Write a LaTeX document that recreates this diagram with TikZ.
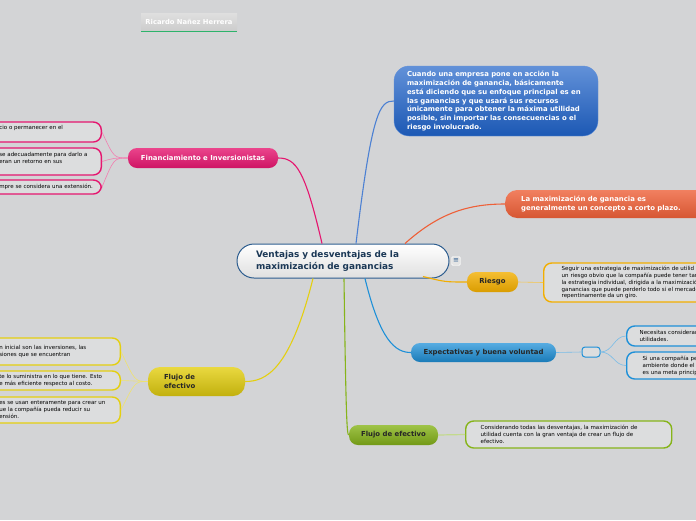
\documentclass[tikz,border=0pt]{standalone}
\usepackage{fontspec}
\setmainfont{DejaVu Sans}
\definecolor{fondo}{HTML}{D3D4D6}
\definecolor{rosa}{HTML}{E5166F}
\definecolor{naranja}{HTML}{EE6038}
\definecolor{azul}{HTML}{1F62C8}
\definecolor{ambar}{HTML}{F2AE00}
\definecolor{celeste}{HTML}{1E90D8}
\definecolor{verde}{HTML}{86B41A}
\definecolor{amarillo}{HTML}{E4CF10}
\definecolor{marino}{HTML}{2D5D8F}
\definecolor{subraya}{HTML}{2DB36B}
\newcommand{\sangria}{\hspace*{6pt}}
\begin{document}
\begin{tikzpicture}[x=1pt,y=-1pt,
  tema/.style={rounded corners=9pt, font=\fontsize{6.9}{8.6}\selectfont\bfseries, inner sep=0pt, align=center},
  hoja/.style={rounded corners=8pt, line width=1.4pt, fill=fondo!80!white, font=\fontsize{5.5}{6.9}\selectfont, align=left, inner ysep=0pt},
  rama/.style={line width=1.1pt},
  sub/.style={line width=0.6pt}]
\fill[fondo] (0,0) rectangle (696,520);
\useasboundingbox (0,0) rectangle (696,520);
\clip (0,0) rectangle (696,520);

% autor
\node[top color=gray!25, bottom color=gray!40, text=white, font=\fontsize{6.8}{7}\selectfont\bfseries, minimum width=96pt, minimum height=18pt, inner sep=0pt] (autor) at (189,22) {Ricardo Nañez Herrera};
\draw[subraya, line width=1pt] (autor.south west) -- (autor.south east);

% tema central
\node[draw=marino, line width=1pt, top color=white, bottom color=gray!25, rounded corners=17pt, text width=174pt, inner xsep=19pt, minimum height=34pt, text=marino!60!black, font=\fontsize{8.9}{11.8}\selectfont\bfseries, align=left] (root) at (343,261) {Ventajas y desventajas de la\\maximización de ganancias};
\node[draw=white, fill=gray!20, rounded corners=1.5pt, minimum size=9pt, inner sep=0pt, font=\fontsize{7}{7}\selectfont, text=marino] (menu) at (456,261) {≡};

% ramas principales
\node[tema, draw=azul!70!white, top color=azul!70!white, bottom color=azul!90!black, text=white, rounded corners=15pt, text width=178pt, inner xsep=13pt, minimum height=70pt, align=left, font=\fontsize{6.9}{8.7}\selectfont\bfseries] (def) at (496,101) {Cuando una empresa pone en acción la\\maximización de ganancia, básicamente\\está diciendo que su enfoque principal es en\\las ganancias y que usará sus recursos\\únicamente para obtener la máxima utilidad\\posible, sin importar las consecuencias o el\\riesgo involucrado.};
\node[tema, anchor=west, top color=naranja!80!white, bottom color=naranja!90!black, text=white, text width=178pt, inner xsep=16pt, minimum height=28pt, align=left, rounded corners=12pt] (corto) at (505,204) {La maximización de ganancia es\\generalmente un concepto a corto plazo.};
\node[tema, top color=ambar!80!white, bottom color=ambar!90!black, text=black!85, minimum width=51pt, minimum height=20pt] (riesgo) at (492.5,282) {Riesgo};
\node[tema, top color=celeste!75!white, bottom color=celeste!85!black, text=black!85, minimum width=145pt, minimum height=19pt] (expec) at (483.5,352.5) {Expectativas y buena voluntad};
\node[tema, top color=verde!80!white, bottom color=verde!85!black, text=black!85, minimum width=89pt, minimum height=20pt] (flujoV) at (393.5,435) {Flujo de efectivo};
\node[tema, top color=amarillo!80!white, bottom color=amarillo!85!black, text=black!85, text width=65pt, inner xsep=16pt, minimum height=29pt, align=left, rounded corners=12pt] (flujoA) at (196.5,381.5) {Flujo de\\efectivo};
\node[tema, top color=rosa!80!white, bottom color=rosa!90!black, text=white, minimum width=150pt, minimum height=20pt] (fin) at (203,158) {Financiamiento e Inversionistas};

\draw[rama, azul!80!white] ([xshift=13pt]root.north) .. controls (372,110) and (380,101) .. (def.west);
\draw[rama, naranja] ([xshift=62pt]root.north) .. controls (440,212) and (470,204) .. (corto.west);
\draw[rama, rosa] ([xshift=-21pt]root.north) .. controls (305,170) and (296,158) .. (fin.east);
\draw[rama, ambar] ([xshift=80pt,yshift=2pt]root.south) .. controls (445,282) .. (riesgo.west);
\draw[rama, celeste] ([xshift=22pt]root.south) .. controls (380,340) and (395,352.5) .. (expec.west);
\draw[rama, verde] ([xshift=1pt]root.south) .. controls (346,422) and (347,435) .. (flujoV.west);
\draw[rama, amarillo] ([xshift=-30pt]root.south) .. controls (290,370) and (266,381.5) .. (flujoA.east);

% hojas: riesgo
\node[hoja, draw=ambar, anchor=west, text width=190pt, inner xsep=18pt, minimum height=39pt] (riesgoT) at (543,282.5) {Seguir una estrategia de maximización de utilid\\un riesgo obvio que la compañía puede tener tan\\la estrategia individual, dirigida a la maximizació\\ganancias que puede perderlo todo si el mercado\\repentinamente da un giro.};
\draw[sub, ambar!70!white] (riesgo.east) -- (riesgoT.west);

% hojas: expectativas
\node[draw=celeste, line width=1pt, rounded corners=3pt, fill=fondo!80!white, minimum width=18pt, minimum height=10pt, inner sep=0pt] (nodo) at (591,352) {};
\node[hoja, draw=celeste, anchor=west, text width=100pt, inner xsep=13pt, minimum height=20pt] (necT) at (626,336) {Necesitas considerar\\utilidades.};
\node[hoja, draw=celeste, anchor=west, text width=100pt, inner xsep=16pt, minimum height=27pt] (siT) at (626,365.5) {Si una compañía pe\\ambiente donde el\\es una meta princip};
\draw[sub, celeste!60!white] (expec.east) -- (nodo.west);
\draw[sub, celeste!60!white] (nodo.east) .. controls (613,352) and (614,336) .. (necT.west);
\draw[sub, celeste!60!white] (nodo.east) .. controls (613,352) and (614,365.5) .. (siT.west);

% hojas: flujo de efectivo (verde)
\node[hoja, draw=verde, anchor=west, text width=176pt, inner xsep=15pt, minimum height=27pt] (flujoVT) at (465,434.5) {Considerando todas las desventajas, la maximización de\\utilidad cuenta con la gran ventaja de crear un flujo de\\efectivo.};
\draw[sub, verde!50!white, line width=1.2pt] (flujoV.east) -- (flujoVT.west);

% hojas: flujo de efectivo (amarillo)
\node[hoja, draw=amarillo, anchor=east, text width=111pt, inner xsep=10pt, minimum height=27pt] (amA) at (121,351.5) {n inicial son las inversiones, las\\siones que se encuentran};
\node[hoja, draw=amarillo, anchor=east, text width=111pt, inner xsep=10pt, minimum height=19pt] (amB) at (121,380.5) {te lo suministra en lo que tiene. Esto\\e más eficiente respecto al costo.};
\node[hoja, draw=amarillo, anchor=east, text width=111pt, inner xsep=10pt, minimum height=26pt] (amC) at (121,410) {es se usan enteramente para crear un\\ue la compañía pueda reducir su\\ensión.};
\foreach \h in {amA,amB,amC}
  \draw[sub, amarillo!60!white] (flujoA.west) .. controls (135,381.5) and (135,381.5) .. (\h.east);

% hojas: financiamiento
\node[hoja, draw=rosa, anchor=east, text width=104pt, inner xsep=4pt, minimum height=20pt] (finA) at (102,132) {\sangria cio o permanecer en el\\[2pt]\phantom{x}};
\node[hoja, draw=rosa, anchor=east, text width=104pt, inner xsep=4pt, minimum height=27pt] (finB) at (102,161.5) {\sangria se adecuadamente para darlo a\\\sangria eran un retorno en sus\\\phantom{x}};
\node[hoja, draw=rosa, anchor=east, text width=104pt, inner xsep=4pt, minimum height=14pt] (finC) at (102,187) {\sangria mpre se considera una extensión.};
\foreach \h in {finA,finB,finC}
  \draw[sub, rosa!55!white] (fin.west) .. controls (114,158) and (114,158) .. (\h.east);
\end{tikzpicture}
\end{document}
